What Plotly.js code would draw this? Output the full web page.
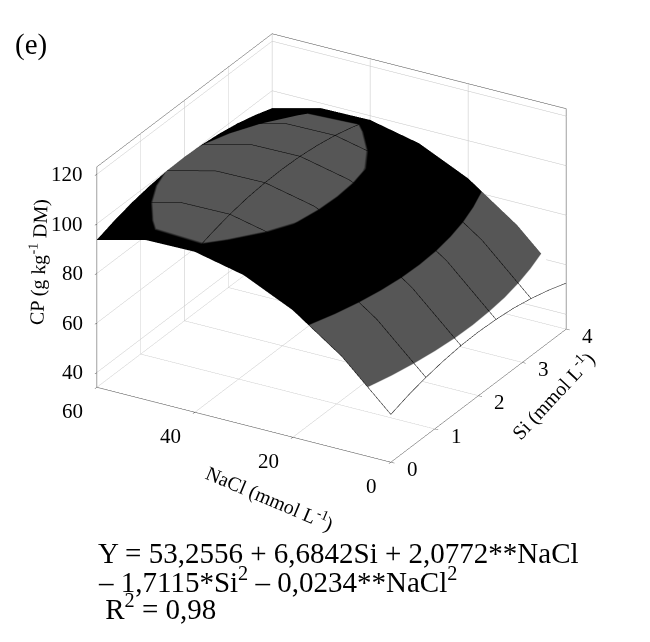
<!DOCTYPE html>
<html>
<head>
<meta charset="utf-8">
<script src="https://cdn.plot.ly/plotly-3.0.1.min.js"></script>
<style>
  html, body { margin: 0; padding: 0; background: #fff; }
  #chart { width: 650px; height: 642px; }
</style>
</head>
<body>
<div id="chart"></div>
<script>
// grid of the fitted surface
var si = [0, 0.4, 0.8, 1.2, 1.6, 2.0, 2.4, 2.8, 3.2, 3.6, 4.0];   // Si (mmol L-1)
var nacl = [0, 10, 20, 30, 40, 50, 60];                            // NaCl (mmol L-1)

// CP (g kg-1 DM), one row per NaCl level, one column per Si level
var cp0  = [53.3, 55.7, 57.5, 58.8, 59.6, 59.8, 59.4, 58.6, 57.1, 55.1, 52.6];
var cp10 = [71.7, 74.1, 75.9, 77.2, 78.0, 78.2, 77.9, 77.0, 75.6, 73.6, 71.0];
var cp20 = [85.4, 87.8, 89.7, 91.0, 91.8, 92.0, 91.6, 90.7, 89.3, 87.3, 84.8];
var cp30 = [94.5, 96.9, 98.8, 100.1, 100.8, 101.0, 100.7, 99.8, 98.4, 96.4, 93.9];
var cp40 = [98.9, 101.3, 103.2, 104.5, 105.2, 105.4, 105.1, 104.2, 102.8, 100.8, 98.3];
var cp50 = [98.6, 101.0, 102.9, 104.2, 104.9, 105.1, 104.8, 103.9, 102.5, 100.5, 98.0];
var cp60 = [93.6, 96.0, 97.9, 99.2, 100.0, 100.2, 99.8, 98.9, 97.5, 95.5, 93.0];

var siTicks = [0, 1, 2, 3, 4];
var naclTicks = [0, 20, 40, 60];
var cpTicks = [40, 60, 80, 100, 120];

var eqLines = [
  'Y = 53,2556 + 6,6842Si + 2,0772**NaCl',
  '\u2013 1,7115*Si<sup>2</sup> \u2013 0,0234**NaCl<sup>2</sup>',
  ' R<sup>2</sup> = 0,98'
];

var serif = 'Liberation Serif, DejaVu Serif, serif';
var zFloor = 34, zTop = 123;

// colour bands: white below 62, grey to 81, black to 100, grey above
var cmin = 50, cmax = 110;
function lvl(v) { return (v - cmin) / (cmax - cmin); }
var grey = '#565656';
var bands = [
  [0, '#ffffff'], [lvl(62), '#ffffff'],
  [lvl(62), grey], [lvl(81), grey],
  [lvl(81), '#000000'], [lvl(100), '#000000'],
  [lvl(100), grey], [1, grey]
];

var surf = {
  type: 'surface',
  x: si,
  y: nacl,
  z: [cp0, cp10, cp20, cp30, cp40, cp50, cp60],
  cmin: cmin,
  cmax: cmax,
  colorscale: bands,
  showscale: false,
  hoverinfo: 'skip',
  lighting: {ambient: 1, diffuse: 0, specular: 0, fresnel: 0, roughness: 1},
  contours: {
    x: {show: true, start: 0, end: 4, size: 0.8, color: '#000', width: 1},
    y: {show: true, start: 0, end: 60, size: 20, color: '#000', width: 1}
  }
};

function axis(range, ticks) {
  return {
    title: {text: ''},
    range: range,
    tickvals: ticks,
    showticklabels: false,
    showgrid: true,
    gridcolor: '#c4c4c4',
    gridwidth: 1,
    showbackground: false,
    showline: true,
    linecolor: '#444',
    linewidth: 1,
    mirror: true,
    zeroline: false,
    ticks: 'outside',
    ticklen: 4,
    tickcolor: '#444',
    showspikes: false
  };
}

// tick labels drawn flat, as in the reference
var tickFont = {family: serif, size: 21, color: '#000'};
var sceneNotes = [];
cpTicks.forEach(function (v) {
  sceneNotes.push({x: 0, y: 60, z: v, text: String(v), showarrow: false,
    xanchor: 'right', yanchor: 'middle', xshift: -12, font: tickFont});
});
naclTicks.forEach(function (v) {
  sceneNotes.push({x: 0, y: v, z: zFloor, text: String(v), showarrow: false,
    xanchor: 'right', yanchor: 'top', xshift: -12, yshift: -10, font: tickFont});
});
siTicks.forEach(function (v) {
  sceneNotes.push({x: v, y: 0, z: zFloor, text: String(v), showarrow: false,
    xanchor: 'left', yanchor: 'middle', xshift: 14, yshift: -7, font: tickFont});
});

var titleFont = {family: serif, size: 20, color: '#000'};
var annotations = [
  {text: 'CP (g kg<sup>-1</sup> DM)', x: 38, y: 262, textangle: -88, font: titleFont},
  {text: 'NaCl (mmol L<sup>-1</sup>)', x: 270, y: 497, textangle: 23, font: titleFont},
  {text: 'Si (mmol L<sup>-1</sup>)', x: 552, y: 395, textangle: -47, font: titleFont}
].map(function (a) {
  return {text: a.text, xref: 'paper', yref: 'paper', x: a.x / 650, y: 1 - a.y / 642,
    xanchor: 'center', yanchor: 'middle', textangle: a.textangle, showarrow: false, font: a.font};
});
eqLines.forEach(function (t, i) {
  annotations.push({
    text: t, xref: 'paper', yref: 'paper',
    x: 0.147, y: 0.139 - i * 0.042,
    xanchor: 'left', yanchor: 'middle',
    showarrow: false,
    font: {family: serif, size: 29, color: '#000'}
  });
});
annotations.push({
  text: '(e)', xref: 'paper', yref: 'paper', x: 0.02, y: 0.93,
  xanchor: 'left', yanchor: 'middle', showarrow: false,
  font: {family: serif, size: 29, color: '#000'}
});

var layout = {
  width: 650,
  height: 642,
  margin: {l: 0, r: 0, t: 0, b: 0},
  paper_bgcolor: '#fff',
  showlegend: false,
  annotations: annotations,
  scene: {
    domain: {x: [0.02, 1], y: [0.228, 1]},
    aspectmode: 'manual',
    aspectratio: {x: 1.41, y: 1.37, z: 0.99},
    camera: {
      eye: {x: -1.127, y: -0.653, z: 0.638},
      center: {x: 0, y: 0, z: 0},
      up: {x: 0, y: 0, z: 1},
      projection: {type: 'orthographic'}
    },
    annotations: sceneNotes,
    xaxis: axis([0, 4], siTicks),
    yaxis: axis([0, 60], naclTicks),
    zaxis: axis([zFloor, zTop], cpTicks)
  }
};

Plotly.newPlot('chart', [surf], layout, {displayModeBar: false});
</script>
</body>
</html>
